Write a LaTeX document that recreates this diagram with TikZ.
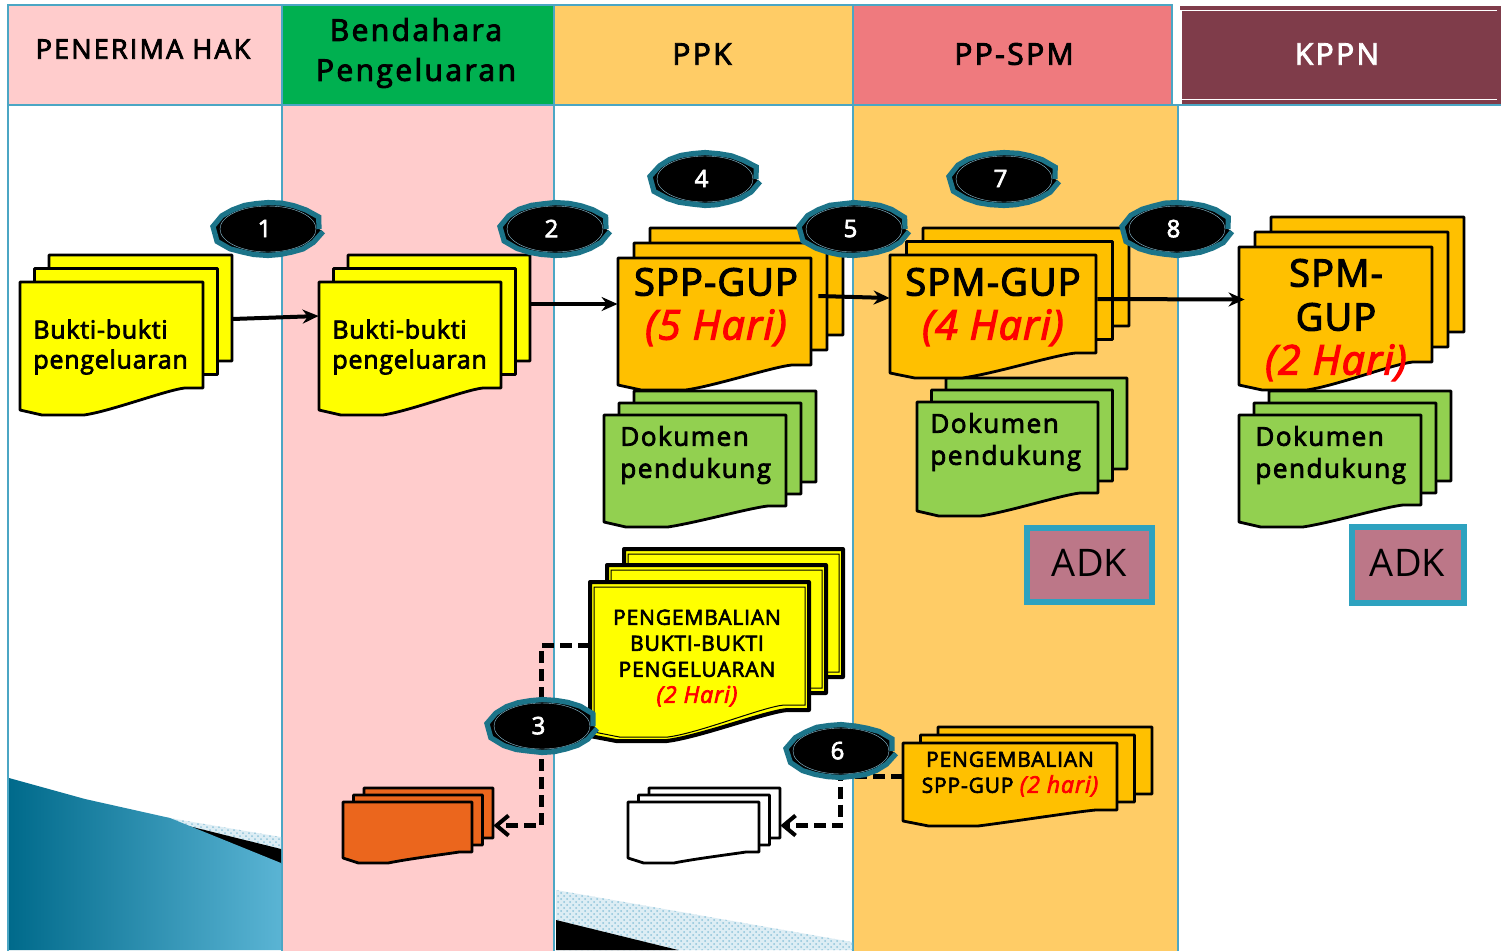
\documentclass[tikz,border=0pt]{standalone}
\usepackage{fontspec}
\setmainfont{Open Sans}
\newfontfamily\labelfont[LetterSpace=3,FakeBold=3]{Open Sans}
\newfontfamily\dokfont[LetterSpace=6,FakeBold=3]{Open Sans}
\newfontfamily\headfont[LetterSpace=8,FakeBold=3]{Open Sans}
\newfontfamily\tightfont[LetterSpace=4,FakeBold=3]{Open Sans}
\usetikzlibrary{arrows.meta,fit,patterns,shapes.geometric,decorations.pathmorphing}
\definecolor{rule}{HTML}{4BA6C4}
\definecolor{pinkbg}{HTML}{FFCCCC}
\definecolor{sandbg}{HTML}{FFCC66}
\definecolor{bendgreen}{HTML}{00B050}
\definecolor{ppspm}{HTML}{EF7A7E}
\definecolor{kppn}{HTML}{7F3C4A}
\definecolor{lemon}{HTML}{FFFF00}
\definecolor{amber}{HTML}{FFC000}
\definecolor{leaf}{HTML}{92D050}
\definecolor{rust}{HTML}{EB661D}
\definecolor{adkfill}{HTML}{BC7788}
\definecolor{adkrule}{HTML}{2EA2BF}
\definecolor{badgerim}{HTML}{1C7489}
\definecolor{wavedark}{HTML}{006A8B}
\definecolor{wavelight}{HTML}{5AB4D4}
\definecolor{dither}{HTML}{8EC4DA}
\definecolor{latered}{HTML}{FF0000}

% one curled page; x, y, width, y of the right foot, y of the lowest edge
\newcommand{\sheet}[6]{%
  \draw[#1] (#2,#3) -- ({#2+#4},#3) -- ({#2+#4},#5) -- ({#2+0.9*#4},#5)
    .. controls ({#2+0.8*#4},{#5+2}) and ({#2+0.5*#4},{#6-4}) .. ({#2+0.35*#4},#6)
    -- ({#2+0.12*#4},#6) -- (#2,{#6-5}) -- cycle;}
% three pages and a node round them; last two arguments: offset of the back page
\newcommand{\docstack}[9]{%
  \foreach \f in {1,0.5,0}
    \sheet{#2}{#3+\f*#8}{#4+\f*#9}{#5}{#6+\f*#9}{#7+\f*#9};
  \node[stackbox,fit={(#3,{#4+#9}) ({#3+#5+#8},#7)}] (#1) {};}
% the digit sits a little left of the middle of its oval
\newcommand{\badgenum}[1]{\makebox[0pt]{\kern-3.5pt\raisebox{0.5pt}{#1}}}
\newcommand{\daysbig}[1]{{\fontsize{20.5}{22}\selectfont\itshape\color{latered}#1}}
\newcommand{\dayssmall}[1]{{\fontsize{11.5}{13}\selectfont\itshape\color{latered}#1}}

\begin{document}
\begin{tikzpicture}[
  x=0.5pt,y=-0.5pt,
  lanebox/.style={draw=rule,line width=1.4pt},
  headtxt/.style={font=\headfont\fontsize{15}{20}\selectfont,align=center,inner sep=0pt},
  paper/.style={draw=black,line width=1.4pt,line join=round},
  stackbox/.style={inner sep=0pt},
  doctxt/.style={font=\labelfont\fontsize{12.5}{15}\selectfont,align=left,anchor=west,inner sep=0pt},
  doktxt/.style={font=\dokfont\fontsize{13}{16}\selectfont,align=left,anchor=west,inner sep=0pt},
  bigtxt/.style={font=\labelfont\fontsize{19}{22}\selectfont,align=center,inner sep=0pt},
  smalltxt/.style={font=\tightfont\fontsize{10.5}{13}\selectfont,align=center,inner sep=0pt},
  dithered/.style={preaction={fill=dither!30},pattern=crosshatch dots,pattern color=dither},
  flow/.style={-{Stealth[length=8pt,width=7pt]},line width=2pt},
  giveback/.style={-{Straight Barb[length=6pt,width=10pt,line width=2pt]},line width=2.5pt,
                   dash pattern=on 6pt off 3pt},
  badge/.style={ellipse,fill=black,draw=badgerim,line width=2.6pt,
                minimum width=51pt,minimum height=25.5pt,inner sep=0pt,text=white,
                font=\tightfont\fontsize{12}{14}\selectfont,
                decorate,decoration={random steps,segment length=6pt,amplitude=0.25pt},
                path picture={\draw[dither,line width=0.2pt]
                  (path picture bounding box.center) ellipse (48 and 23);}},
  adkbox/.style={draw=adkrule,fill=adkfill,line width=3pt,inner sep=0pt,
                 font=\fontsize{19}{22}\selectfont},
]
\useasboundingbox (0,0) rectangle (1501,950);
\fill[white] (0,0) rectangle (1501,950);

% ---------------------------------------------------------------- lanes
\draw[lanebox,fill=white]   (8,105) rectangle (282,955);
\draw[lanebox,fill=pinkbg]  (282,105) rectangle (554,955);
\draw[lanebox,fill=white]   (554,105) rectangle (853,955);
\draw[lanebox,fill=sandbg]  (853,105) rectangle (1178,955);
\draw[lanebox,fill=white]   (1178,105) rectangle (1510,955);

\draw[lanebox,fill=pinkbg]    (8,5) rectangle (282,105);
\draw[lanebox,fill=bendgreen] (282,5) rectangle (554,105);
\draw[lanebox,fill=sandbg]    (554,5) rectangle (853,105);
\draw[lanebox,fill=ppspm]     (853,5) rectangle (1172,105);
\fill[kppn] (1182,6) rectangle (1501,104);
\fill[kppn] (1180,6) rectangle (1182,10);
\draw[white,line width=0.7pt] (1180,10.5) -- (1497,10.5);
\draw[white,line width=0.7pt] (1182,99.5) -- (1497,99.5);

\node[headtxt,font=\headfont\fontsize{13.5}{20}\selectfont] (hPenerima) at (143,49) {PENERIMA HAK};
\node[headtxt] (hBendahara) at (416,53) {Bendahara\\Pengeluaran};
\node[headtxt] (hPpk) at (702,54) {PPK};
\node[headtxt] (hPpspm) at (1014,54) {PP-SPM};
\node[headtxt,text=white] (hKppn) at (1337,54) {KPPN};

% ---------------------------------------------------------------- bottom waves
\fill[dithered] (140,813) -- (281,837) -- (281,850) -- (140,815) -- cycle;
\fill[black] (100,804) -- (281,849) -- (281,864) -- (170,820) -- cycle;
\shade[left color=wavedark,right color=wavelight]
  (9,778) -- (85,799) -- (170,818) -- (281,863) -- (281,950) -- (9,950) -- cycle;
\fill[dithered] (556,890) -- (852,942) -- (852,950) -- (556,950) -- cycle;
\fill[black] (556,920) -- (678,950) -- (556,950) -- cycle;

% ---------------------------------------------------------------- pages
\docstack{buktiA}{paper,fill=lemon}{20}{282}{183}{388}{415}{29}{-27}
\docstack{buktiB}{paper,fill=lemon}{319}{282}{182}{388}{415}{29}{-27}
\docstack{dokA}{paper,fill=leaf}{604}{415}{182}{506}{527}{30}{-24}
\docstack{sppGup}{paper,fill=amber}{618}{258}{193}{365}{390}{32}{-30}
\docstack{dokB}{paper,fill=leaf}{917}{402}{181}{493}{516}{29}{-24}
\docstack{spmGup}{paper,fill=amber}{890}{255}{206}{353}{378}{33}{-27}
\docstack{dokC}{paper,fill=leaf}{1239}{415}{182}{505}{527}{30}{-24}
\docstack{spmKppn}{paper,fill=amber}{1239}{247}{193}{362}{390}{32}{-30}
\docstack{retOrange}{paper,fill=rust}{343}{802}{129}{852}{863}{21}{-14}
\docstack{retWhite}{paper,fill=white}{628}{802}{131}{852}{863}{21}{-14}
\docstack{retSpp}{paper,fill=amber}{903}{743}{214}{810}{826}{35}{-16}

% the returned proofs have a heavy frame with a thin one inside
\foreach \ox/\oy in {34/-33,17/-17,0/0} {
  \sheet{paper,fill=lemon,line width=2pt}{590+\ox}{582+\oy}{219}{710+\oy}{741+\oy}
  \sheet{black,line width=0.5pt}{594+\ox}{587+\oy}{211}{705+\oy}{737+\oy}
}
\node[stackbox,fit={(590,549) (843,741)}] (retBukti) {};

\node[adkbox,minimum width=62.5pt,minimum height=37pt] (adkA) at (1089.5,565) {\raisebox{2.5pt}{ADK}};
\node[adkbox,minimum width=56pt,minimum height=38pt] (adkB) at (1407.5,565) {\raisebox{2.5pt}{ADK}};

% ---------------------------------------------------------------- connectors
\draw[flow] ([shift={(0,-16)}]buktiA.east) -- ([shift={(0,-19)}]buktiB.west);
\draw[flow] ([shift={(0,-31)}]buktiB.east) -- ([shift={(0,-5)}]sppGup.west);
\draw[flow] ([shift={(-25,-13)}]sppGup.east) -- ([shift={(0,-5)}]spmGup.west);
\draw[flow] ([shift={(-32,-4)}]spmGup.east) -- ([shift={(6,-4)}]spmKppn.west);
\draw[giveback] (retBukti.west) -- ++(-48,0) |- (retOrange.east);
\draw[giveback] (retSpp.west) -- ++(-62,0) |- (retWhite.east);

% ---------------------------------------------------------------- texts
\node[doctxt] (tBuktiA) at (33,347) {Bukti-bukti\\pengeluaran};
\node[doctxt] (tBuktiB) at (332,347) {Bukti-bukti\\pengeluaran};
\node[doktxt] (tDokA) at (620,455) {Dokumen\\pendukung};
\node[doktxt] (tDokB) at (930,442) {Dokumen\\pendukung};
\node[doktxt] (tDokC) at (1255,455) {Dokumen\\pendukung};
\node[bigtxt] (tSpp) at (716,307) {SPP-GUP\\\daysbig{(5 Hari)}};
\node[bigtxt] (tSpm) at (993,307) {SPM-GUP\\\daysbig{(4 Hari)}};
\node[bigtxt] (tKppn) at (1336,320) {SPM-\\GUP\\\daysbig{(2 Hari)}};
\node[smalltxt] (tRetBukti) at (697,658) {PENGEMBALIAN\\BUKTI-BUKTI\\PENGELUARAN\\\dayssmall{(2 Hari)}};
\node[smalltxt] (tRetSpp) at (1010,774) {PENGEMBALIAN\\SPP-GUP \dayssmall{(2 hari)}};

% ---------------------------------------------------------------- numbers
\node[badge] (n1) at (268,229) {\badgenum{1}};
\node[badge] (n2) at (555,229) {\badgenum{2}};
\node[badge] (n3) at (542,726) {\badgenum{3}};
\node[badge] (n4) at (705,179) {\badgenum{4}};
\node[badge] (n5) at (854,229) {\badgenum{5}};
\node[badge] (n6) at (841,751) {\badgenum{6}};
\node[badge] (n7) at (1004,179) {\badgenum{7}};
\node[badge] (n8) at (1177,229) {\badgenum{8}};

\end{tikzpicture}
\end{document}
